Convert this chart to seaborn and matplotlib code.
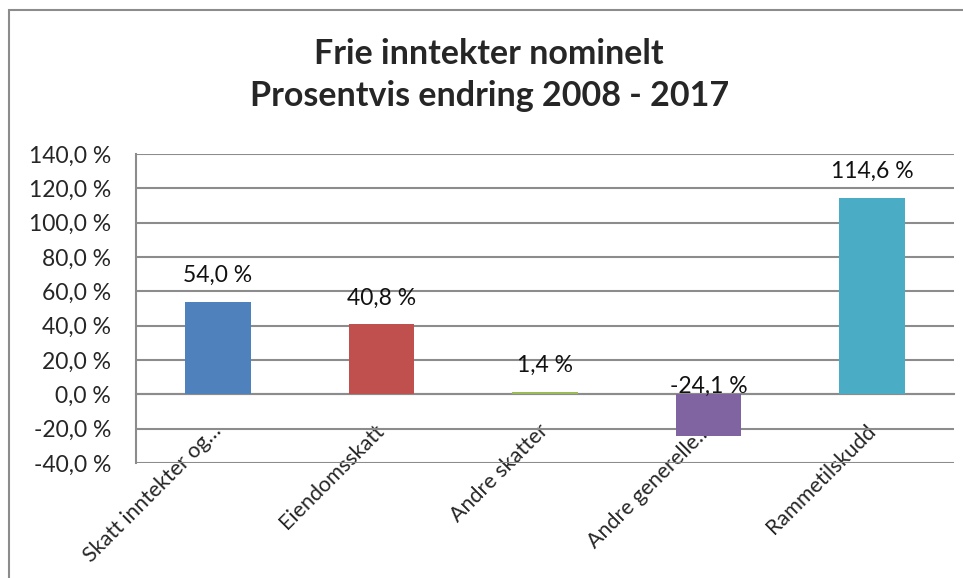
import matplotlib
matplotlib.use('Agg')
import matplotlib.pyplot as plt
from matplotlib.patches import Rectangle
from matplotlib.ticker import FuncFormatter, FixedLocator
import pandas as pd
import seaborn as sns

categories = ['Skatt inntekter og…', 'Eiendomsskatt', 'Andre skatter',
              'Andre generelle…', 'Rammetilskudd']
values = [54.0, 40.8, 1.4, -24.1, 114.6]
colors = ['#4F81BD', '#C0504D', '#9BBB59', '#8064A2', '#4BACC6']
y_ticks = [-40, -20, 0, 20, 40, 60, 80, 100, 120, 140]


def pct(v):
    return f'{v:.1f}'.replace('.', ',') + ' %'


sns.set_style('white')
plt.rcParams['font.family'] = ['Lato', 'DejaVu Sans']

grey = '#8c8c8c'
fig = plt.figure(figsize=(9.63, 5.78), dpi=100)
ax = fig.add_axes([136 / 963, 1 - 463 / 578, (954 - 136) / 963, (463 - 154) / 578])

df = pd.DataFrame({'kategori': categories, 'verdi': values})
sns.barplot(data=df, x='kategori', y='verdi', hue='kategori', palette=colors,
            width=0.4, saturation=1, legend=False, ax=ax, zorder=3,
            linewidth=0, edgecolor='none')

ax.set_xlim(-0.5, len(categories) - 0.5)
ax.set_ylim(-40, 140)
ax.set_yticks(y_ticks)
ax.yaxis.set_major_formatter(FuncFormatter(lambda v, p: pct(v)))
ax.grid(axis='y', color=grey, lw=1.5)
ax.set_axisbelow(True)
ax.set_xlabel('')
ax.set_ylabel('')

for s in ['top', 'right']:
    ax.spines[s].set_visible(False)
ax.spines['bottom'].set_position(('data', 0))
ax.spines['bottom'].set_color(grey)
ax.spines['bottom'].set_linewidth(1.5)
ax.spines['bottom'].set_zorder(2)
ax.spines['left'].set_color(grey)
ax.spines['left'].set_linewidth(1.5)

ax.xaxis.set_minor_locator(FixedLocator([i - 0.5 for i in range(len(categories) + 1)]))
ax.tick_params(axis='x', which='major', length=0, pad=24, labelsize=15.5)
ax.tick_params(axis='x', which='minor', length=6, width=1.5, color=grey, direction='out')
ax.tick_params(axis='y', length=6, width=1.5, color=grey, direction='out', labelsize=16.5, pad=12)
for lab in ax.get_xticklabels():
    lab.set_rotation(45)
    lab.set_ha('right')
    lab.set_va('center')
    lab.set_rotation_mode('anchor')

for i, v in enumerate(values):
    off = 19 if v >= 0 else 6
    ax.annotate(pct(v), (i, max(v, 0)), xytext=(0, off), textcoords='offset points',
                ha='center', va='center', fontsize=16.5, color='#111111')

fig.text(0.508, 1 - 75 / 578, 'Frie inntekter nominelt\nProsentvis endring 2008 - 2017',
         ha='center', va='center', fontsize=24.5, fontweight='bold', linespacing=1.4)

fig.patches.append(Rectangle((9 / 963, -0.1), 1.2, 1 - 10 / 578 + 0.1,
                             transform=fig.transFigure, fill=False,
                             edgecolor=grey, lw=1.5))

fig.savefig('out.png', dpi=100)
